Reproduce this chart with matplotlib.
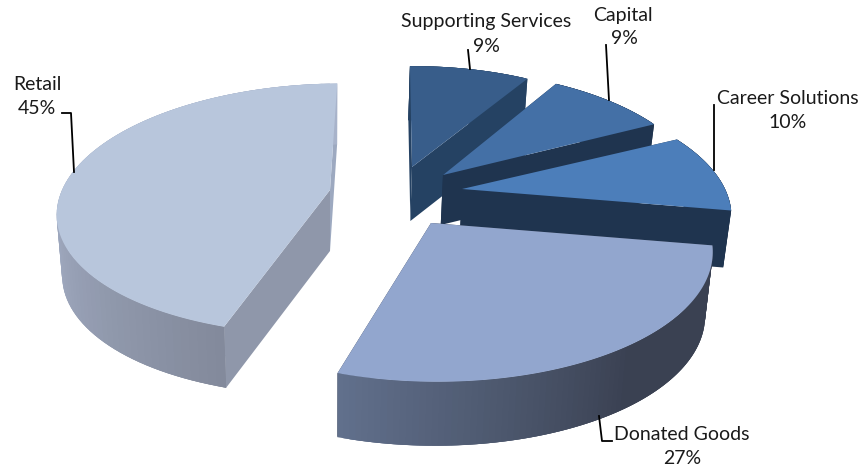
import matplotlib
matplotlib.use("Agg")
import matplotlib.pyplot as plt
import numpy as np

plt.rcParams["font.family"] = ["Lato", "DejaVu Sans"]

# Data
categories = ["Retail", "Donated Goods", "Career Solutions", "Capital", "Supporting Services"]
shares = [45, 27, 10, 9, 9]
share_labels = ["45%", "27%", "10%", "9%", "9%"]

# Look of each slice, hand fitted: apex, radii, perspective, shear, depth
apexes = [(330, 190), (431, 223), (462, 189), (443, 175), (412, 167)]
radii_x = [268, 275, 263, 257, 256]
radii_y = [122.5, 127, 122, 125, 121]
persp = [0.15, 0.2, 0.2, 0.2, 0.2]
shear = [13, -5, -5, -2, 2]
depths = [61, 64, 57, 50, 54]
top_colors = ["#B8C6DC", "#92A6CE", "#4C7EBA", "#4470A6", "#385D8A"]
cut_colors = ["#8F97AA", "#3A4152", "#1F344F", "#1F344F", "#254263"]
back_colors = ["#9DA9C0", "#3A4152", "#1F344F", "#1F344F", "#254263"]
rim_start = ["#A8B3CA", "#61708C", "#1F344F", "#1F344F", "#254263"]
rim_end = ["#838A9C", "#3A4152", "#1F344F", "#1F344F", "#254263"]
rim_lead = [0.52, 0.0, 0.0, 0.0, 0.0]
rim_stop = [1.0, 0.55, 1.0, 1.0, 1.0]

label_xy = [(37, 84), (682, 435), (788, 98), (623, 16), (486, 22)]
value_xy = [(37, 108), (682, 459), (788, 122), (624, 39), (486, 46)]
leaders = [
    ([62, 71, 74], [113, 113, 172]),
    ([599, 602, 612], [416, 441, 441]),
    ([714, 714], [105, 170]),
    ([606, 609], [45, 100]),
    ([468, 470], [50, 69]),
]

start_angle = 91
shrink_x = 330
draw_order = [4, 3, 2, 0, 1]

fig = plt.figure(figsize=(8.62, 4.70), dpi=100)
ax = fig.add_axes([0, 0, 1, 1])
ax.set_xlim(0, 862)
ax.set_ylim(470, 0)
ax.axis("off")


def rim_point(i, theta):
    c, s = np.cos(np.radians(theta)), np.sin(np.radians(theta))
    d = 1 + persp[i] * s
    x = apexes[i][0] + (radii_x[i] * c + shear[i] * s) / d
    y = apexes[i][1] - radii_y[i] * s / d
    return x, y


def lower(i, x, y):
    # same point on the underside of the slab
    return shrink_x + (x - shrink_x) * 0.98, y + depths[i]


def quad(p, q, i, color, z):
    p2, q2 = lower(i, *p), lower(i, *q)
    ax.fill([p[0], q[0], q2[0], p2[0]], [p[1], q[1], q2[1], p2[1]],
            facecolor=color, edgecolor="none", zorder=z)


def mix(a, b, t):
    a, b = np.array(matplotlib.colors.to_rgb(a)), np.array(matplotlib.colors.to_rgb(b))
    return tuple(a + (b - a) * t)


edges = start_angle + np.concatenate([[0], np.cumsum(shares)]) * 3.6

for rank, i in enumerate(draw_order):
    z = 2 + rank * 3
    angles = np.linspace(edges[i], edges[i + 1], 90)
    rim = [rim_point(i, a) for a in angles]

    # cut faces
    quad(apexes[i], rim[0], i, back_colors[i], z)
    quad(apexes[i], rim[-1], i, cut_colors[i], z)

    # outer wall, shaded along the visible part of the arc; pieces overlap so no seams show
    for k in range(len(rim) - 1):
        frac = k / (len(rim) - 2)
        t = np.clip((frac - rim_lead[i]) / (1 - rim_lead[i]) / rim_stop[i], 0, 1)
        quad(rim[k], rim[min(k + 3, len(rim) - 1)], i, mix(rim_start[i], rim_end[i], t), z + 1)

    # top face
    xs = [apexes[i][0]] + [p[0] for p in rim]
    ys = [apexes[i][1]] + [p[1] for p in rim]
    ax.fill(xs, ys, facecolor=top_colors[i], edgecolor="none", zorder=z + 2)

for i, name in enumerate(categories):
    ax.plot(leaders[i][0], leaders[i][1], color="black", linewidth=1.3, zorder=30)
    ax.text(label_xy[i][0], label_xy[i][1], name, fontsize=14, color="#1a1a1a",
            ha="center", va="center", zorder=31)
    ax.text(value_xy[i][0], value_xy[i][1], share_labels[i], fontsize=14, color="#1a1a1a",
            ha="center", va="center", zorder=31)

fig.savefig("out.png", dpi=100, facecolor="white")
